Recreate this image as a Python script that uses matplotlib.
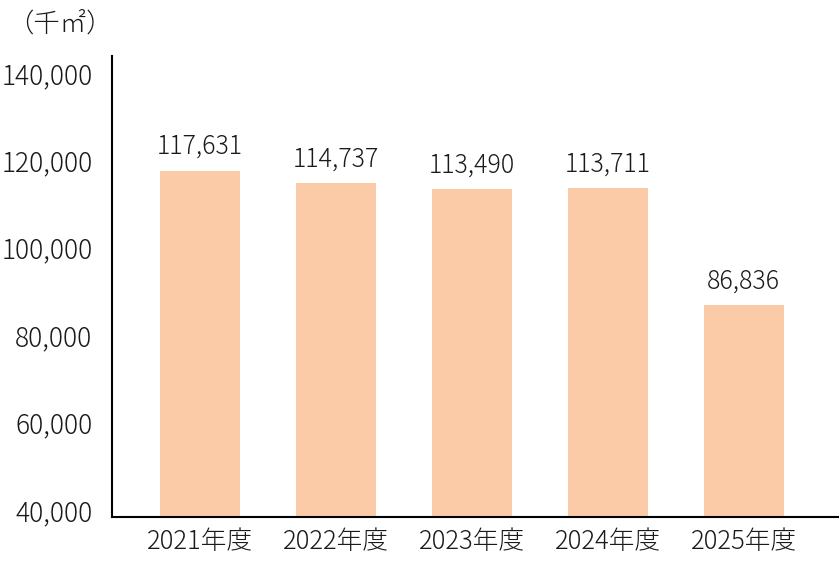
import matplotlib
matplotlib.use("Agg")
import matplotlib.pyplot as plt
from matplotlib.ticker import FuncFormatter

plt.rcParams['font.family'] = ['Noto Sans CJK JP', 'DejaVu Sans']
plt.rcParams['font.weight'] = 'light'

years = ["2021年度", "2022年度", "2023年度", "2024年度", "2025年度"]
areas = [117631, 114737, 113490, 113711, 86836]
y_ticks = [40000, 60000, 80000, 100000, 120000, 140000]
unit_label = "（千㎡）"

BAR_COLOR = "#FBCBA7"
TEXT_COLOR = "#1a1a1a"

fig = plt.figure(figsize=(8.39, 5.62), dpi=100)
ax = fig.add_axes([0.1335, 0.0801, 0.8665, 0.8203])

x = range(len(years))
bars = ax.bar(x, areas, width=0.59, color=BAR_COLOR)

# value labels above each bar
for rect, val in zip(bars, areas):
    ax.annotate(f"{val:,}", (rect.get_x() + rect.get_width() / 2, rect.get_height()),
                xytext=(0, 12), textcoords="offset points",
                ha="center", va="baseline", fontsize=18, color=TEXT_COLOR)

ax.set_xlim(-0.647, 4.70)
ax.set_ylim(38400, 143900)
ax.set_yticks(y_ticks)
ax.yaxis.set_major_formatter(FuncFormatter(lambda v, p: f"{int(v):,}"))
ax.set_xticks(list(x))
ax.set_xticklabels(years)

ax.tick_params(axis="y", length=0, pad=14, labelsize=19, labelcolor=TEXT_COLOR)
ax.tick_params(axis="x", length=0, pad=8, labelsize=18.5, labelcolor=TEXT_COLOR)

for side in ("top", "right"):
    ax.spines[side].set_visible(False)
for side in ("left", "bottom"):
    ax.spines[side].set_linewidth(1.5)
    ax.spines[side].set_color("black")

fig.text(0.008, 0.958, unit_label, fontsize=19, color=TEXT_COLOR, va="center", ha="left")

fig.savefig("out.png", dpi=100)
